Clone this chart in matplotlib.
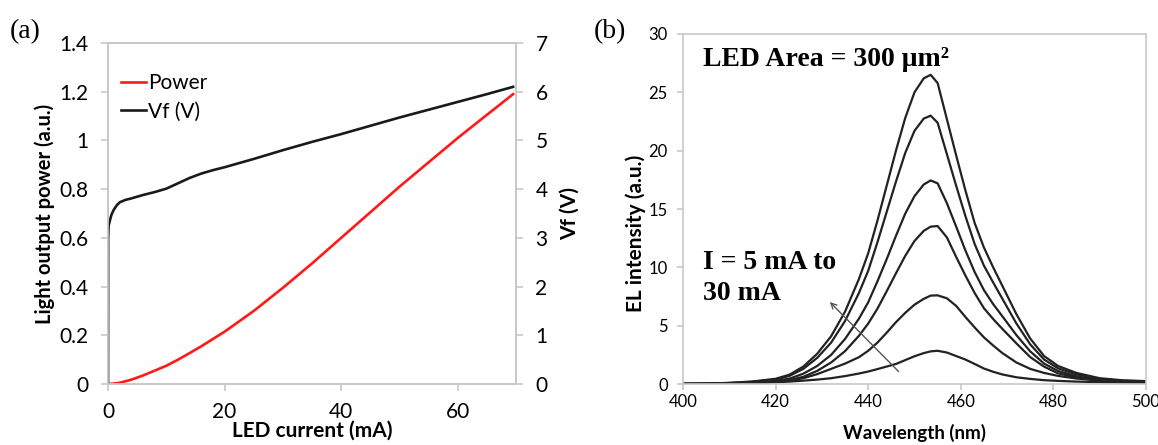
import matplotlib
matplotlib.use("Agg")
import matplotlib.pyplot as plt

# panel (a): LED current sweep
i_power = [0, 1, 2, 4, 6, 8, 10, 12, 14, 16, 18, 20, 25, 30, 35, 40, 45, 50, 55, 60, 65, 69.5]
power = [0, 0.002, 0.005, 0.018, 0.035, 0.055, 0.075, 0.1, 0.127, 0.155, 0.185, 0.215,
         0.3, 0.395, 0.495, 0.6, 0.705, 0.81, 0.91, 1.01, 1.105, 1.19]

i_vf = [0, 0.02, 0.1, 0.3, 0.6, 1.0, 1.5, 2, 3, 4, 6, 8, 10, 12, 14, 16, 18, 20,
        25, 30, 35, 40, 45, 50, 55, 60, 65, 69.5]
vf = [0, 3.0, 3.25, 3.35, 3.48, 3.58, 3.67, 3.73, 3.78, 3.81, 3.88, 3.94, 4.01, 4.12,
      4.23, 4.32, 4.39, 4.45, 4.62, 4.8, 4.97, 5.13, 5.3, 5.47, 5.63, 5.79, 5.95, 6.1]

# panel (b): EL spectra, 5 mA .. 30 mA
wl = [400, 405, 410, 415, 420, 423, 426, 429, 432, 435, 438, 440, 442, 444, 446, 448, 450,
      452, 453.5, 455, 457, 459, 461, 463, 465, 467, 469, 472, 475, 478, 481, 485, 490, 495, 500]
el_1 = [0.01, 0.02, 0.04, 0.08, 0.15, 0.21, 0.29, 0.38, 0.5, 0.68, 0.9, 1.07, 1.28, 1.5, 1.72,
        2.05, 2.38, 2.65, 2.8, 2.85, 2.7, 2.4, 2.1, 1.72, 1.33, 1.05, 0.82, 0.58, 0.44, 0.33,
        0.27, 0.21, 0.16, 0.12, 0.1]
el_2 = [0.01, 0.02, 0.04, 0.08, 0.18, 0.3, 0.5, 0.85, 1.3, 1.75, 2.3, 2.85, 3.55, 4.4, 5.3,
        6.1, 6.8, 7.3, 7.58, 7.6, 7.35, 6.7, 5.75, 4.85, 4.0, 3.3, 2.65, 1.85, 1.3, 0.95,
        0.7, 0.47, 0.3, 0.2, 0.15]
el_3 = [0.01, 0.02, 0.05, 0.1, 0.19, 0.33, 0.62, 1.13, 1.85, 2.82, 4.13, 5.18, 6.46, 7.95,
        9.49, 10.98, 12.26, 13.13, 13.49, 13.54, 12.57, 10.9, 9.3, 7.8, 6.5, 5.57, 4.72,
        3.49, 2.31, 1.49, 0.92, 0.56, 0.28, 0.17, 0.13]
el_4 = [0.01, 0.03, 0.06, 0.13, 0.28, 0.46, 0.89, 1.55, 2.5, 3.86, 5.6, 7.0, 8.8, 10.7, 12.7,
        14.6, 16.1, 17.1, 17.45, 17.2, 15.5, 13.5, 11.45, 9.6, 8.05, 6.85, 5.8, 4.2, 2.8,
        1.75, 1.12, 0.66, 0.34, 0.22, 0.17]
el_5 = [0.02, 0.03, 0.09, 0.19, 0.39, 0.7, 1.3, 2.25, 3.55, 5.4, 7.8, 9.7, 12.15, 14.75,
        17.35, 19.8, 21.7, 22.75, 23.0, 22.4, 19.7, 17.0, 14.4, 12.0, 10.15, 8.7, 7.3, 5.2,
        3.4, 2.1, 1.35, 0.82, 0.43, 0.28, 0.22]
el_6 = [0.02, 0.04, 0.1, 0.22, 0.45, 0.8, 1.5, 2.6, 4.1, 6.2, 9.0, 11.2, 14.0, 17.0, 20.0,
        22.8, 25.0, 26.2, 26.5, 25.8, 22.7, 19.6, 16.6, 13.8, 11.7, 10.0, 8.4, 6.0, 3.9, 2.4,
        1.55, 0.95, 0.5, 0.32, 0.25]
spectra = [el_1, el_2, el_3, el_4, el_5, el_6]

SANS = ["Lato", "DejaVu Sans"]
SERIF = ["Liberation Serif", "DejaVu Serif"]
GRAY = "#c8c8c8"

plt.rcParams["font.family"] = SANS

fig = plt.figure(figsize=(11.58, 4.45), dpi=100)

# ---------------- (a)
ax = fig.add_axes([0.0933, 0.137, 0.3523, 0.7664])
ax2 = ax.twinx()
l1, = ax.plot(i_power, power, color="#ff1a1a", lw=1.9, label="Power")
l2, = ax2.plot(i_vf, vf, color="#1a1a1a", lw=1.9, label="Vf (V)")
ax.set_xlim(0, 70)
ax.set_ylim(0, 1.4)
ax2.set_ylim(0, 7)
ax.set_xticks([0, 20, 40, 60])
ax.set_yticks([0, 0.2, 0.4, 0.6, 0.8, 1.0, 1.2, 1.4])
ax.set_yticklabels(["0", "0.2", "0.4", "0.6", "0.8", "1", "1.2", "1.4"])
ax2.set_yticks(range(8))
for a in (ax, ax2):
    for s in a.spines.values():
        s.set_color(GRAY)
        s.set_linewidth(1.2)
    a.tick_params(colors=GRAY, labelcolor="black", labelsize=15, length=5, width=1.2, pad=9)
ax.tick_params(axis="x", pad=8)
ax.set_xlabel("LED current (mA)", fontsize=15, fontweight="bold", labelpad=-1)
ax.set_ylabel("Light output power (a.u.)", fontsize=14.5, fontweight="bold", labelpad=3)
ax2.set_ylabel("Vf (V)", fontsize=15, fontweight="bold", labelpad=9)
ax.legend([l1, l2], ["Power", "Vf (V)"], loc="upper left", frameon=False, fontsize=15,
          handlelength=1.2, handletextpad=0.1, borderaxespad=0.4, labelspacing=0.4,
          bbox_to_anchor=(-0.01, 0.96))
fig.text(0.022, 0.93, "(a)", fontsize=20, family=SERIF, ha="center", va="center")

# ---------------- (b)
bx = fig.add_axes([0.5898, 0.137, 0.3998, 0.7866])
for y in spectra:
    bx.plot(wl, y, color="#222222", lw=1.6)
bx.set_xlim(400, 500)
bx.set_ylim(0, 30)
bx.set_xticks([400, 420, 440, 460, 480, 500])
bx.set_yticks([0, 5, 10, 15, 20, 25, 30])
for s in bx.spines.values():
    s.set_color(GRAY)
    s.set_linewidth(1.2)
bx.tick_params(colors=GRAY, labelcolor="black", labelsize=12, length=4, width=1.2)
bx.tick_params(axis="y", pad=7)
bx.tick_params(axis="x", pad=3)
bx.set_xlabel("Wavelength (nm)", fontsize=13.5, fontweight="bold", labelpad=10)
bx.set_ylabel("EL intensity (a.u.)", fontsize=15, fontweight="bold", labelpad=2, y=0.43)
bx.text(404.3, 27.8, "LED Area = 300 \u03bcm\u00b2", fontsize=20, fontweight="bold",
        family=SERIF, ha="left", va="center")
bx.text(404.3, 9.1, "I = 5 mA to\n30 mA", fontsize=20, fontweight="bold",
        family=SERIF, ha="left", va="center", linespacing=1.28)
bx.annotate("", xy=(431.3, 7.2), xytext=(447, 0.9),
            arrowprops=dict(arrowstyle="->", color="#555555", lw=1.0))
fig.text(0.527, 0.93, "(b)", fontsize=20, family=SERIF, ha="center", va="center")

fig.savefig("out.png", dpi=100)
